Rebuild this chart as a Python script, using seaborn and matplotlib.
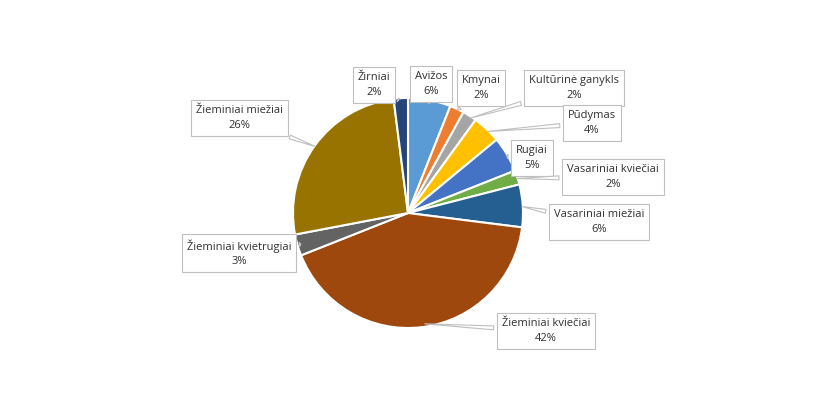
import matplotlib.pyplot as plt
import numpy as np
import seaborn as sns

sns.set_style("white")
plt.rcParams['font.family'] = ['Open Sans', 'DejaVu Sans']

labels = ["Avižos", "Kmynai", "Kultūrinė ganykls", "Pūdymas", "Rugiai",
          "Vasariniai kviečiai", "Vasariniai miežiai", "Žieminiai kviečiai",
          "Žieminiai kvietrugiai", "Žieminiai miežiai", "Žirniai"]
values = [6, 2, 2, 4, 5, 2, 6, 42, 3, 26, 2]
colors = ["#5B9BD5", "#ED7D31", "#A5A5A5", "#FFC000", "#4472C4", "#70AD47",
          "#255E91", "#9E480E", "#636363", "#997300", "#264478"]
# label box centres (pixels from top-left)
box_pos = [(431, 84), (481, 88), (574, 88), (592, 123), (532, 158), (613, 177),
           (599, 222), (546, 331), (239, 253), (239, 118), (374, 85)]

W, H = 820, 394
fig = plt.figure(figsize=(W / 100, H / 100), dpi=100)
cx, cy, r = 408, 213, 115
ax = fig.add_axes([(cx - r) / W, (H - cy - r) / H, 2 * r / W, 2 * r / H])
wedges, _ = ax.pie(values, colors=colors, startangle=90, counterclock=False,
                   radius=1.0, wedgeprops=dict(edgecolor="white", linewidth=1.5))
ax.set_xlim(-1, 1)
ax.set_ylim(-1, 1)
ax.set_aspect("equal")

for w, lab, v, (bx, by) in zip(wedges, labels, values, box_pos):
    ang = np.deg2rad((w.theta1 + w.theta2) / 2)
    xy = (0.97 * np.cos(ang), 0.97 * np.sin(ang))
    ax.annotate(f"{lab}\n{v}%", xy=xy, xycoords="data",
                xytext=(bx, H - by), textcoords="figure pixels",
                ha="center", va="center", fontsize=8, color="#303030",
                linespacing=1.4,
                bbox=dict(boxstyle="square,pad=0.45", fc="white", ec="#BFBFBF", lw=0.8),
                arrowprops=dict(arrowstyle="wedge,tail_width=0.35,shrink_factor=0.5",
                                fc="white", ec="#BFBFBF", lw=0.8),
                annotation_clip=False)

fig.savefig("out.png", dpi=100)
